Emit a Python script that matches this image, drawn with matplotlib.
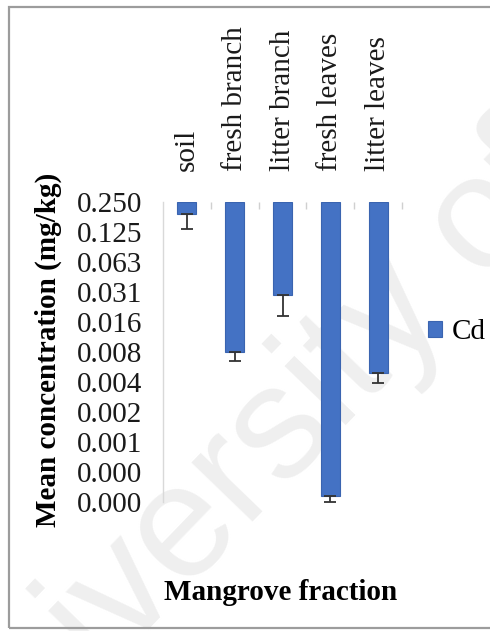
import matplotlib.pyplot as plt
from matplotlib.patches import Rectangle
from matplotlib.ticker import FixedLocator, FixedFormatter, NullLocator
import numpy as np

# Cd mean concentration per mangrove fraction (mg/kg), log2 axis
fractions = ['soil', 'fresh branch', 'litter branch', 'fresh leaves', 'litter leaves']
cd_mean = [0.19, 0.0079, 0.029, 0.00028, 0.0048]
cd_err = [0.056, 0.0016, 0.011, 0.000036, 0.001]
ytick_vals = [0.25 / 2 ** k for k in range(11)]
ytick_labels = ['0.250', '0.125', '0.063', '0.031', '0.016', '0.008',
                '0.004', '0.002', '0.001', '0.000', '0.000']

plt.rcParams['font.family'] = ['Liberation Serif', 'DejaVu Serif']
fs = 21

fig = plt.figure(figsize=(4.9, 6.31), dpi=100)
ax = fig.add_axes([163 / 490, 1 - 502 / 631, 239 / 490, 300 / 631])
ax.patch.set_alpha(0)

# faint watermark behind everything
fig.text(-40 / 490, 1 - 825 / 631, 'University of Malaya', fontsize=116,
         family='Liberation Sans', color='#efefef', rotation=46,
         rotation_mode='anchor', ha='left', va='baseline', zorder=-5)

# outer chart frame
fig.add_artist(Rectangle((9 / 490, 1 - 628 / 631), 1.2, 621 / 631,
                         transform=fig.transFigure, fill=False,
                         edgecolor='#9c9c9c', linewidth=1.6))

x = np.arange(len(fractions))
top = 0.25
heights = [v - top for v in cd_mean]
ax.bar(x, heights, bottom=top, width=0.4, color='#4472C4',
       edgecolor='#3a64b0', linewidth=0.8, label='Cd', zorder=2)
ax.errorbar(x, cd_mean, yerr=[cd_err, [0] * len(cd_err)], fmt='none',
            ecolor='#333333', elinewidth=1.3, capsize=4.5, capthick=1.3,
            zorder=3, clip_on=False)

# log2 axis with 0.250 at the top, bars hang down from it
ax.set_yscale('log', base=2)
ax.set_ylim(0.25 / 2 ** 10, 0.25)
ax.set_xlim(-0.5, len(fractions) - 0.5)

ax.yaxis.set_major_locator(FixedLocator(ytick_vals))
ax.yaxis.set_major_formatter(FixedFormatter(ytick_labels))
ax.yaxis.set_minor_locator(NullLocator())
ax.tick_params(axis='y', length=0, pad=15, labelsize=fs, labelcolor='#1a1a1a')

ax.xaxis.tick_top()
ax.set_xticks(x)
ax.set_xticklabels(fractions, rotation=90)
ax.set_xticks(np.arange(len(fractions)) + 0.5, minor=True)
ax.tick_params(axis='x', which='major', length=0, pad=22, labelsize=fs,
               labelcolor='#1a1a1a')
ax.tick_params(axis='x', which='minor', direction='in', length=5,
               color='#d0d0d0', width=1)

for side in ['top', 'right', 'bottom']:
    ax.spines[side].set_visible(False)
ax.spines['left'].set_color('#d9d9d9')
ax.spines['left'].set_linewidth(1)

fig.text(48 / 490, 1 - 350 / 631, 'Mean concentration (mg/kg)', fontsize=fs,
         fontweight='bold', rotation=90, ha='center', va='center')
fig.text(281 / 490, 1 - 593 / 631, 'Mangrove fraction', fontsize=fs,
         fontweight='bold', ha='center', va='center')

ax.legend(loc='center left', bbox_to_anchor=(428 / 490, 1 - 332 / 631),
          bbox_transform=fig.transFigure, frameon=False, fontsize=fs,
          handlelength=0.48, handleheight=0.48, handletextpad=0.35,
          borderpad=0, borderaxespad=0)

fig.savefig('out.png', dpi=100)
